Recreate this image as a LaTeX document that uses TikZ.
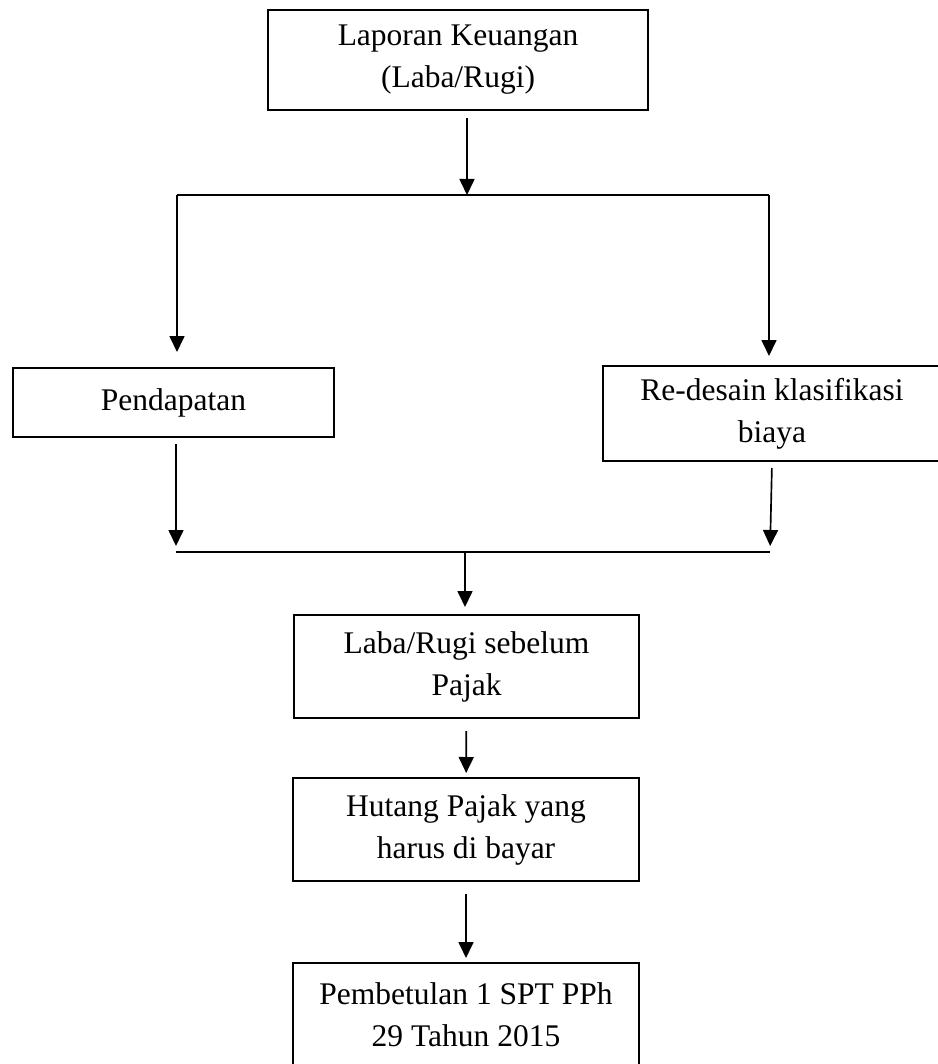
\documentclass[tikz,border=0pt]{standalone}
\usepackage{fontspec}
\setmainfont{Liberation Serif}
\usepackage{tikz}
\usetikzlibrary{positioning, arrows.meta}

\begin{document}
\begin{tikzpicture}[
  x=0.3pt, y=-0.3pt,
  box/.style={draw, line width=0.6pt, inner sep=0pt, align=center, font=\fontsize{9.45}{12.6}\selectfont},
  arrow/.style={-{Triangle[length=4.8pt, width=4.5pt]}, line width=0.5pt},
  bar/.style={line width=0.8pt}]

  \useasboundingbox (0,0) rectangle (938,1064);

  \node[box, minimum width=114pt, minimum height=30pt] (lapkeu) at (458,60) {Laporan Keuangan\\(Laba/Rugi)};
  \node[box, minimum width=96.3pt, minimum height=20.7pt] (pendapatan) at (173.5,402.5) {Pendapatan};
  \node[box, minimum width=101.4pt, minimum height=28.5pt] (redesain) at (772,413.5) {Re-desain klasifikasi\\biaya};
  \node[box, minimum width=103.5pt, minimum height=30.9pt] (labasp) at (466.5,666.5) {Laba/Rugi sebelum\\Pajak};
  \node[box, minimum width=103.8pt, minimum height=30.9pt] (hutang) at (466,829.5) {Hutang Pajak yang\\harus di bayar};
  \node[box, minimum width=103.8pt, minimum height=30.9pt] (pembetulan) at (466,1014.5) {Pembetulan 1 SPT PPh\\29 Tahun 2015};

  % split and join points
  \coordinate (split) at (467,195);
  \coordinate (splitL) at (177,195);
  \coordinate (splitR) at (769,195);
  \coordinate (joinL) at (176,552);
  \coordinate (joinR) at (770,552);
  \coordinate (join) at (465,552);

  \draw[arrow, shorten <=2.1pt] (lapkeu.south -| split) -- (split);
  \draw[bar] (splitL) -- (splitR);
  \draw[arrow, shorten >=4.5pt] (splitL) -- (splitL |- pendapatan.north);
  \draw[arrow, shorten >=2.7pt] (splitR) -- (splitR |- redesain.north);
  \draw[arrow, shorten <=1.8pt, shorten >=1.8pt] (pendapatan.south -| joinL) -- (joinL);
  \draw[arrow, shorten <=1.8pt, shorten >=1.8pt] (redesain.south) -- (joinR);
  \draw[bar] (joinL) -- (joinR);
  \draw[arrow, shorten >=2.1pt] (join) -- (join |- labasp.north);
  \draw[arrow, shorten <=3.6pt, shorten >=1.2pt] (labasp) -- (hutang);
  \draw[arrow, shorten <=3.6pt, shorten >=1.2pt] (hutang) -- (pembetulan);
\end{tikzpicture}
\end{document}
